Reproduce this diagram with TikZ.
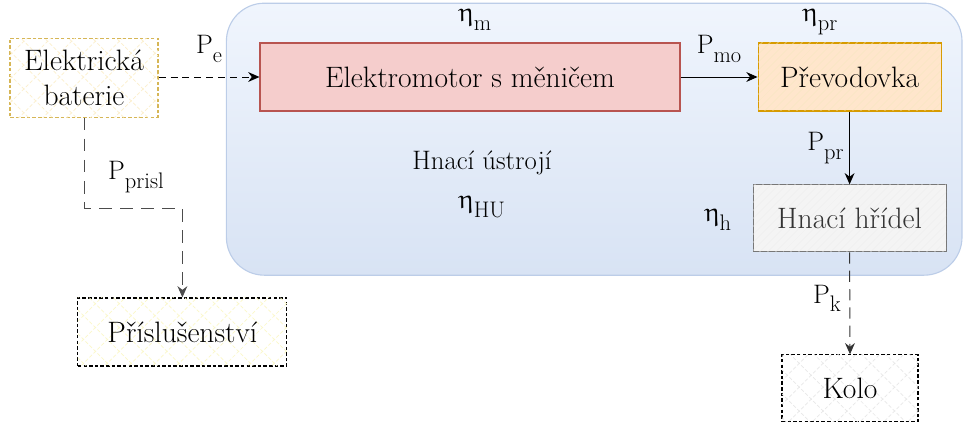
\documentclass[tikz,border=0pt]{standalone}
\usepackage{upgreek}
\usetikzlibrary{patterns.meta,arrows.meta}

% barvy
\definecolor{huTop}{HTML}{F0F5FD}
\definecolor{huBot}{HTML}{D8E3F4}
\definecolor{huLine}{HTML}{BCCDE8}
\definecolor{motFill}{HTML}{F5CDCC}
\definecolor{motLine}{HTML}{B85450}
\definecolor{prevFill}{HTML}{FFE6CC}
\definecolor{prevLine}{HTML}{D79B00}
\definecolor{hrFill}{HTML}{F4F4F4}
\definecolor{hrLine}{HTML}{777777}
\definecolor{batLine}{HTML}{D6B656}
\definecolor{batHatch}{HTML}{FCEFCC}
\definecolor{prHatch}{HTML}{FBF8C8}
\definecolor{koHatch}{HTML}{E8E8E8}

% dolni index a ucinnost
\newcommand{\lo}[1]{\raisebox{-0.33em}{\fontsize{16}{19}\selectfont #1}}
\newcommand{\ucin}{$\upeta$}

\tikzset{
    blok/.style={draw, line width=0.8pt, inner sep=0pt, minimum height=1.7cm,
        align=center, font=\fontsize{21}{25}\selectfont},
    mrizka/.style={fill=white,
        postaction={pattern={Lines[angle=45,distance=12pt,line width=0.5pt]}, pattern color=#1},
        postaction={pattern={Lines[angle=-45,distance=12pt,line width=0.5pt]}, pattern color=#1}},
    srafa/.style={postaction={pattern={Lines[angle=45,distance=4pt,line width=0.3pt]}, pattern color=#1}},
    popis/.style={inner sep=0pt, font=\fontsize{19}{23}\selectfont},
    tok/.style={->, line width=0.7pt},
    tokcar/.style={->, line width=0.7pt, dash pattern=on 5pt off 3.5pt},
}

\begin{document}
\begin{tikzpicture}[>={Stealth[length=8pt,width=7pt]}]

    \useasboundingbox (0,0) rectangle (24.075,-10.575);

    % hnaci ustroji
    \draw[rounded corners=0.95cm, line width=0.8pt, draw=huLine, top color=huTop, bottom color=huBot]
        (5.66,-0.08) rectangle (24.05,-6.88);
    \node[popis, align=center] (hu) at (12.05,-4.6) {Hnací ústrojí\\[5pt]\ucin\lo{HU}};

    % bloky
    \node[blok, mrizka=batHatch, draw=batLine, dash pattern=on 2.5pt off 1.5pt,
        minimum width=3.7cm, minimum height=1.975cm] (bat) at (2.1,-1.94) {Elektrická\\baterie};
    \node[blok, fill=motFill, draw=motLine, minimum width=10.5cm] (mot) at (11.75,-1.925) {Elektromotor s měničem};
    \node[blok, fill=prevFill, draw=prevLine, srafa=prevLine!25, minimum width=4.575cm] (prev) at (21.24,-1.925) {Převodovka};
    \node[blok, fill=hrFill, draw=hrLine, srafa=black!7, text=black!80, minimum width=4.825cm,
        minimum height=1.675cm] (hr) at (21.24,-5.46) {Hnací hřídel};
    \node[blok, mrizka=prHatch, dash pattern=on 2.5pt off 1.5pt,
        minimum width=5.225cm] (pris) at (4.56,-8.3) {Příslušenství};
    \node[blok, mrizka=koHatch, dash pattern=on 2.5pt off 1.5pt,
        minimum width=3.4cm, minimum height=1.675cm] (kolo) at (21.25,-9.71) {Kolo};

    % ucinnosti
    \node[popis] (etam) at (11.875,-0.5) {\ucin\lo{m}};
    \node[popis] (etapr) at (20.5,-0.55) {\ucin\lo{pr}};
    \node[popis] (etah) at (17.95,-5.5) {\ucin\lo{h}};

    % toky vykonu
    \draw[tokcar] (bat.east |- mot.west) -- (mot.west) node[popis, midway, above=10pt] (pe) {P\lo{e}};
    \draw[tok] (mot.east) -- (prev.west) node[popis, midway, above=10pt] (pmo) {P\lo{mo}};
    \draw[tok] (prev.south) -- (hr.north) node[popis, midway, left=4pt] (ppr) {P\lo{pr}};
    \draw[tokcar, draw=black!80, dash pattern=on 8pt off 5pt] (hr.south) -- (kolo.north)
        node[popis, pos=0.45, left=6pt] (pk) {P\lo{k}};

    \coordinate (z1) at (2.1,-5.2);
    \coordinate (z2) at (pris.north |- z1);
    \draw[tokcar, draw=black!70, dash pattern=on 9pt off 6pt] (bat.south) -- (z1) -- (z2) -- (pris.north);
    \node[popis] (pprisl) at (3.4,-4.42) {P\lo{prisl}};

\end{tikzpicture}
\end{document}
